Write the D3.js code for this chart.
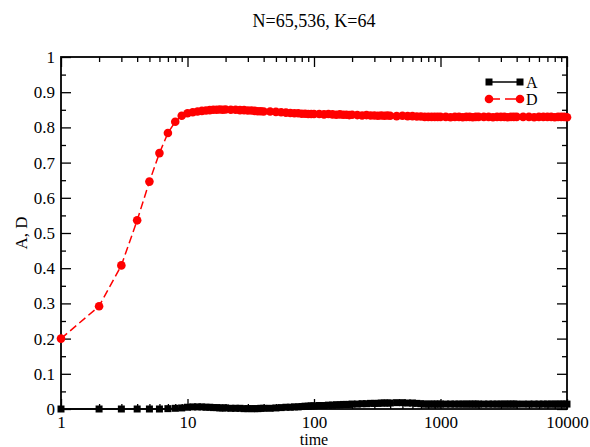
<!DOCTYPE html>
<html>
<head>
<meta charset="utf-8">
<script src="https://cdn.jsdelivr.net/npm/d3@7"></script>
<style>
body { margin: 0; background: #fff; }
text { font-family: "Liberation Serif", "Times New Roman", serif; }
</style>
</head>
<body>
<script>
// data
const time = [1,2,3,4,5,6,7,8,9,10,11,12,13,14,15,16,17,18,19,20,
  22,24,26,28,30,32,34,36,38,40,
  45,50,55,60,65,70,75,80,85,90,95,100,
  110,120,130,140,150,160,170,180,190,200,
  220,240,260,280,300,320,340,360,380,400,
  450,500,550,600,650,700,750,800,850,900,950,1000,
  1100,1200,1300,1400,1500,1600,1700,1800,1900,2000,
  2200,2400,2600,2800,3000,3200,3400,3600,3800,4000,
  4500,5000,5500,6000,6500,7000,7500,8000,8500,9000,9500,10000];

const seriesD = [0.200,0.292,0.408,0.536,0.646,0.727,0.784,0.816,0.833,0.840,0.843,0.845,0.847,0.848,0.849,0.850,0.850,0.851,0.850,0.851,
  0.850,0.850,0.849,0.849,0.848,0.848,0.847,0.846,0.846,0.845,
  0.845,0.844,0.843,0.842,0.841,0.840,0.840,0.839,0.839,0.838,0.838,0.838,
  0.838,0.837,0.838,0.837,0.836,0.837,0.836,0.836,0.835,0.836,
  0.835,0.834,0.835,0.834,0.834,0.833,0.834,0.833,0.834,0.833,
  0.832,0.833,0.832,0.832,0.831,0.831,0.830,0.830,0.830,0.830,0.830,0.830,
  0.830,0.829,0.830,0.830,0.829,0.830,0.830,0.829,0.830,0.830,
  0.830,0.830,0.829,0.830,0.830,0.830,0.829,0.830,0.830,0.830,
  0.830,0.830,0.829,0.830,0.830,0.830,0.830,0.829,0.830,0.830,0.830,0.829];

const seriesA = [0,0,0,0,0,0,0.001,0.002,0.003,0.005,0.006,0.006,0.006,0.005,0.005,0.004,0.004,0.003,0.003,0.003,
  0.002,0.002,0.002,0.001,0.001,0.001,0.001,0.001,0.002,0.002,
  0.002,0.003,0.004,0.005,0.005,0.006,0.006,0.007,0.008,0.008,0.009,0.009,
  0.010,0.010,0.011,0.011,0.012,0.012,0.013,0.013,0.013,0.014,
  0.014,0.015,0.015,0.016,0.016,0.016,0.017,0.017,0.017,0.017,
  0.018,0.018,0.017,0.017,0.016,0.015,0.014,0.014,0.014,0.014,0.014,0.014,
  0.014,0.014,0.014,0.014,0.014,0.014,0.014,0.014,0.014,0.014,
  0.014,0.014,0.014,0.014,0.014,0.014,0.014,0.014,0.014,0.014,
  0.014,0.014,0.014,0.014,0.014,0.014,0.014,0.014,0.014,0.014,0.014,0.014];

const xTicks = [1, 10, 100, 1000, 10000];
const yTicks = [0, 0.1, 0.2, 0.3, 0.4, 0.5, 0.6, 0.7, 0.8, 0.9, 1];
const yTickLabels = ["0","0.1","0.2","0.3","0.4","0.5","0.6","0.7","0.8","0.9","1"];
const seriesNames = ["A", "D"];

const width = 590, height = 447;
const margin = {top: 57, right: 23, bottom: 38, left: 61};
const w = width - margin.left - margin.right,
      h = height - margin.top - margin.bottom;

const svg = d3.select("body").append("svg")
  .attr("width", width)
  .attr("height", height);

const g = svg.append("g").attr("transform", "translate(" + margin.left + "," + margin.top + ")");

const x = d3.scaleLog().domain([1, 10000]).range([0, w]);
const y = d3.scaleLinear().domain([0, 1]).range([h, 0]);

const xMinor = x.ticks().filter(function(d) { return xTicks.indexOf(d) < 0; });
const yMinor = d3.range(0.05, 1, 0.1);

function styleAxis(sel) {
  sel.select(".domain").remove();
  sel.selectAll("line").attr("stroke", "#000").attr("stroke-width", 1.3);
  sel.selectAll("text").attr("font-size", 17).attr("fill", "#000")
    .attr("font-family", "Liberation Serif, serif");
}

// bottom
g.append("g").attr("transform", "translate(0," + h + ")")
  .call(d3.axisBottom(x).tickValues(xTicks).tickFormat(d3.format("d")).tickSizeInner(-10).tickSizeOuter(0).tickPadding(7))
  .call(styleAxis);
g.append("g").attr("transform", "translate(0," + h + ")")
  .call(d3.axisBottom(x).tickValues(xMinor).tickFormat("").tickSizeInner(-5).tickSizeOuter(0))
  .call(styleAxis);
// top
g.append("g")
  .call(d3.axisTop(x).tickValues(xTicks).tickFormat("").tickSizeInner(-10).tickSizeOuter(0))
  .call(styleAxis);
g.append("g")
  .call(d3.axisTop(x).tickValues(xMinor).tickFormat("").tickSizeInner(-5).tickSizeOuter(0))
  .call(styleAxis);
// left
g.append("g")
  .call(d3.axisLeft(y).tickValues(yTicks).tickFormat(function(d, i) { return yTickLabels[i]; }).tickSizeInner(-10).tickSizeOuter(0).tickPadding(6))
  .call(styleAxis);
g.append("g")
  .call(d3.axisLeft(y).tickValues(yMinor).tickFormat("").tickSizeInner(-5).tickSizeOuter(0))
  .call(styleAxis);
// right
g.append("g").attr("transform", "translate(" + w + ",0)")
  .call(d3.axisRight(y).tickValues(yTicks).tickFormat("").tickSizeInner(-10).tickSizeOuter(0))
  .call(styleAxis);
g.append("g").attr("transform", "translate(" + w + ",0)")
  .call(d3.axisRight(y).tickValues(yMinor).tickFormat("").tickSizeInner(-5).tickSizeOuter(0))
  .call(styleAxis);

// frame
g.append("rect")
  .attr("width", w).attr("height", h)
  .attr("fill", "none").attr("stroke", "#000").attr("stroke-width", 1.8);

// series
const line = d3.line()
  .x(function(d) { return x(d[0]); })
  .y(function(d) { return y(d[1]); });

const dataA = time.map(function(t, i) { return [t, seriesA[i]]; });
const dataD = time.map(function(t, i) { return [t, seriesD[i]]; });

const sqr = d3.symbol().type(d3.symbolSquare).size(49);
const circ = d3.symbol().type(d3.symbolCircle).size(58);

g.append("path").datum(dataA)
  .attr("d", line).attr("fill", "none").attr("stroke", "#000").attr("stroke-width", 1.5);
g.append("g").selectAll("path").data(dataA).enter().append("path")
  .attr("d", sqr)
  .attr("transform", function(d) { return "translate(" + x(d[0]) + "," + y(d[1]) + ")"; })
  .attr("fill", "#000");

g.append("path").datum(dataD)
  .attr("d", line).attr("fill", "none").attr("stroke", "#ff0000").attr("stroke-width", 1.5)
  .attr("stroke-dasharray", "8,4");
g.append("g").selectAll("path").data(dataD).enter().append("path")
  .attr("d", circ)
  .attr("transform", function(d) { return "translate(" + x(d[0]) + "," + y(d[1]) + ")"; })
  .attr("fill", "#ff0000");

// legend
const legend = g.append("g")
  .selectAll("g")
  .data(seriesNames)
  .enter().append("g")
  .attr("transform", function(d, i) { return "translate(428," + (25 + i * 17) + ")"; });

legend.append("line")
  .attr("x1", 0).attr("x2", 31).attr("y1", 0).attr("y2", 0)
  .attr("stroke", function(d, i) { return i ? "#ff0000" : "#000"; })
  .attr("stroke-width", 1.5)
  .attr("stroke-dasharray", function(d, i) { return i ? "11,5" : null; });

legend.each(function(d, i) {
  const s = d3.select(this);
  [0, 31].forEach(function(px) {
    s.append("path")
      .attr("d", i ? circ : sqr)
      .attr("transform", "translate(" + px + ",0)")
      .attr("fill", i ? "#ff0000" : "#000");
  });
});

legend.append("text")
  .attr("x", 37).attr("y", 6)
  .attr("font-size", 16)
  .text(function(d) { return d; });

// titles
svg.append("text")
  .attr("x", margin.left + w / 2).attr("y", 27)
  .attr("text-anchor", "middle")
  .attr("font-size", 18)
  .text("N=65,536, K=64");

svg.append("text")
  .attr("x", margin.left + w / 2).attr("y", 445)
  .attr("text-anchor", "middle")
  .attr("font-size", 16)
  .text("time");

svg.append("text")
  .attr("transform", "translate(27," + (margin.top + h / 2) + ") rotate(-90)")
  .attr("text-anchor", "middle")
  .attr("font-size", 17)
  .text("A, D");
</script>
</body>
</html>
